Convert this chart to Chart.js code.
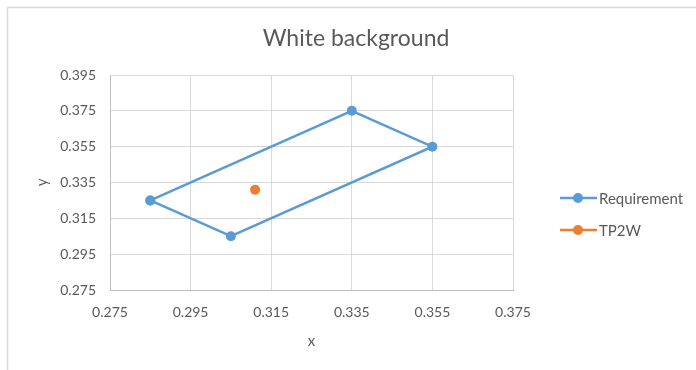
<!DOCTYPE html>
<html>
<head>
<meta charset="utf-8">
<script src="https://cdn.jsdelivr.net/npm/chart.js@4/dist/chart.umd.min.js"></script>
<style>
  html, body { margin: 0; padding: 0; background: #ffffff; }
  #wrap { position: relative; width: 696px; height: 370px; }
  canvas { display: block; }
</style>
</head>
<body>
<div id="wrap"><canvas id="c" width="696" height="370"></canvas></div>
<script>
// Requirement region corners (closed polygon) and the measured TP2W point
const requirementX = [0.285, 0.305, 0.355, 0.335, 0.285];
const requirementY = [0.325, 0.305, 0.355, 0.375, 0.325];
const tp2wX = [0.311];
const tp2wY = [0.331];
const seriesNames = ['Requirement', 'TP2W'];
const chartTitle = 'White background';
const xTicks = [0.275, 0.295, 0.315, 0.335, 0.355, 0.375];
const yTicks = [0.275, 0.295, 0.315, 0.335, 0.355, 0.375, 0.395];

const BLUE = '#5B9BD5';
const ORANGE = '#ED7D31';
const TEXT = '#595959';
const GRID = '#D9D9D9';
const FONT = 'Lato, "Open Sans", sans-serif';

const toPoints = (xs, ys) => xs.map((x, i) => ({ x: x, y: ys[i] }));

// Outer frame, the centred title and the right-hand legend
const decor = {
  id: 'decor',
  beforeDraw(chart) {
    const ctx = chart.ctx;
    ctx.save();
    ctx.strokeStyle = GRID;
    ctx.lineWidth = 1.5;
    ctx.beginPath();
    ctx.moveTo(7.5, 370);
    ctx.lineTo(7.5, 7.5);
    ctx.lineTo(696, 7.5);
    ctx.stroke();
    ctx.fillStyle = TEXT;
    ctx.font = '23px ' + FONT;
    ctx.textAlign = 'center';
    ctx.textBaseline = 'middle';
    ctx.fillText(chartTitle, 356, 39);
    ctx.restore();
  },
  afterDraw(chart) {
    const ctx = chart.ctx;
    ctx.save();
    chart.data.datasets.forEach((ds, i) => {
      const y = 198 + i * 32;
      ctx.strokeStyle = ds.borderColor;
      ctx.lineWidth = 2.5;
      ctx.beginPath();
      ctx.moveTo(560, y);
      ctx.lineTo(597, y);
      ctx.stroke();
      ctx.fillStyle = ds.backgroundColor;
      ctx.beginPath();
      ctx.arc(578, y, 5, 0, Math.PI * 2);
      ctx.fill();
      ctx.fillStyle = TEXT;
      ctx.font = '15px ' + FONT;
      ctx.textBaseline = 'middle';
      ctx.textAlign = 'left';
      ctx.fillText(ds.label, 599, y + 1);
    });
    ctx.restore();
  }
};

new Chart(document.getElementById('c'), {
  type: 'scatter',
  data: {
    datasets: [
      {
        label: seriesNames[0],
        data: toPoints(requirementX, requirementY),
        showLine: true,
        borderColor: BLUE,
        backgroundColor: BLUE,
        borderWidth: 2.5,
        pointRadius: 5,
        pointHoverRadius: 5,
        pointBorderWidth: 0,
        tension: 0
      },
      {
        label: seriesNames[1],
        data: toPoints(tp2wX, tp2wY),
        showLine: false,
        borderColor: ORANGE,
        backgroundColor: ORANGE,
        pointRadius: 5,
        pointHoverRadius: 5,
        pointBorderWidth: 0
      }
    ]
  },
  options: {
    responsive: false,
    animation: false,
    layout: { padding: { top: 75, left: 8, right: 183, bottom: 0 } },
    plugins: {
      legend: { display: false },
      tooltip: { enabled: false },
      title: { display: false }
    },
    scales: {
      x: {
        type: 'linear',
        min: xTicks[0],
        max: xTicks[xTicks.length - 1],
        afterBuildTicks(s) { s.ticks = xTicks.map(v => ({ value: v })); },
        afterFit(s) { s.height = 80; },
        grid: { color: GRID, lineWidth: 1, drawTicks: false },
        border: { color: '#BFBFBF', width: 1 },
        ticks: {
          color: TEXT,
          padding: 14,
          font: { family: FONT, size: 14 },
          callback: v => v.toFixed(3)
        },
        title: {
          display: true,
          text: 'x',
          color: TEXT,
          font: { family: FONT, size: 15 },
          padding: { top: 0, bottom: 20 }
        }
      },
      y: {
        type: 'linear',
        min: yTicks[0],
        max: yTicks[yTicks.length - 1],
        afterBuildTicks(s) { s.ticks = yTicks.map(v => ({ value: v })); },
        afterFit(s) { s.width = 102; },
        grid: { color: GRID, lineWidth: 1, drawTicks: false },
        border: { color: '#BFBFBF', width: 1 },
        ticks: {
          color: TEXT,
          padding: 14,
          font: { family: FONT, size: 14 },
          callback: v => v.toFixed(3)
        },
        title: {
          display: true,
          text: 'y',
          color: TEXT,
          font: { family: FONT, size: 15 },
          padding: { top: 25, bottom: 0 }
        }
      }
    }
  },
  plugins: [decor]
});
</script>
</body>
</html>
